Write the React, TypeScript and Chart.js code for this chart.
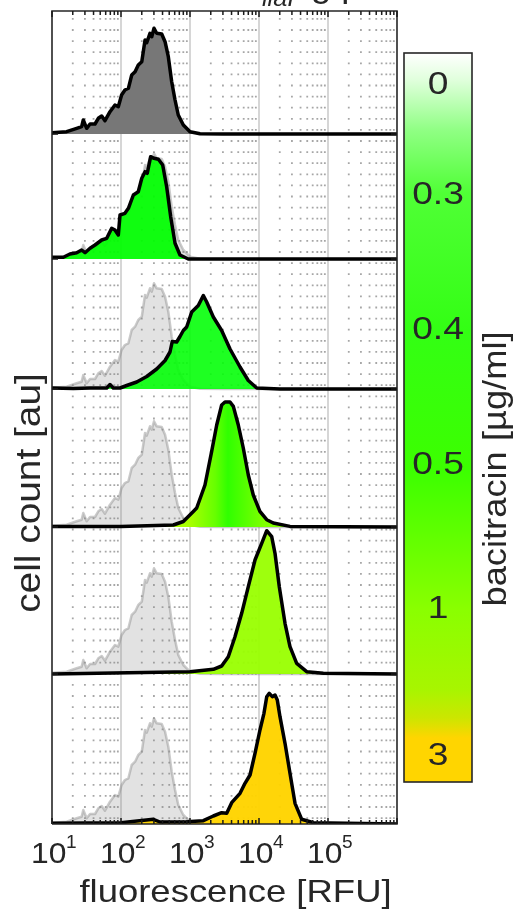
import React, { useEffect, useRef } from 'react';
import { Chart, registerables } from 'chart.js';

Chart.register(...registerables);

// ---- data ----
const concentrations = ['0', '0.3', '0.4', '0.5', '1', '3']; // bacitracin [µg/ml]
const panelBaselines = [6.9, 5.65, 4.35, 2.97, 1.5, 0]; // y offset of each histogram (au)
const yAxisMax = 8.13;
const xAxisMin = 10;
const xAxisMax = 1e6;
const xTickExponents = [1, 2, 3, 4, 5];

// fluorescence [RFU] / cell count [au]
const rfu0 = [10, 16.3, 22.8, 26.9, 28.4, 31.8, 35.6, 42, 46.9, 52.5, 58.6, 69.3, 81.8, 91.4, 102, 114, 128, 143, 160, 178, 200, 223, 236, 263, 279, 301, 329, 389, 435, 485, 543, 607, 676, 800, 1000, 1396, 3000, 1000000];
const counts0 = [0.013, 0.023, 0.057, 0.073, 0.14, 0.057, 0.1, 0.1, 0.157, 0.18, 0.133, 0.223, 0.29, 0.273, 0.39, 0.44, 0.457, 0.59, 0.623, 0.69, 0.723, 0.94, 0.913, 1.007, 0.973, 1.057, 1.007, 1.0, 0.923, 0.773, 0.523, 0.34, 0.19, 0.09, 0.023, 0.003, 0, 0];

const rfu1 = [10, 14.6, 18.2, 22.8, 26.9, 30.1, 35.6, 42, 52.5, 62.1, 73.3, 81.8, 91.4, 96.8, 114, 128, 151, 178, 200, 223, 240, 269, 301, 348, 402, 459, 525, 607, 716, 944, 2000, 1000000];
const counts1 = [0.017, 0.017, 0.05, 0.063, 0.09, 0.063, 0.107, 0.14, 0.19, 0.207, 0.307, 0.29, 0.24, 0.44, 0.457, 0.507, 0.64, 0.673, 0.807, 0.873, 0.857, 1.023, 1.007, 0.997, 0.94, 0.723, 0.423, 0.157, 0.04, 0, 0, 0];

const rfu2 = [10, 20.4, 35.6, 62.1, 69.3, 77.3, 96.8, 121, 169, 236, 329, 435, 513, 553, 641, 716, 800, 895, 1059, 1318, 1560, 1746, 2178, 2877, 3802, 5309, 6998, 9268, 20000, 1000000];
const counts2 = [0.01, 0.005, 0.01, 0.01, 0.045, 0.01, 0.01, 0.035, 0.07, 0.125, 0.2, 0.285, 0.37, 0.475, 0.47, 0.525, 0.585, 0.62, 0.77, 0.835, 0.935, 0.87, 0.72, 0.585, 0.4, 0.22, 0.085, 0.01, 0, 0];

const rfu3 = [10, 100, 573, 800, 1117, 1250, 1648, 2061, 2438, 2877, 3214, 3802, 4246, 5012, 5916, 6998, 8260, 10300, 12940, 16110, 28120, 1000000];
const counts3 = [0.005, 0.005, 0.02, 0.055, 0.155, 0.19, 0.42, 0.756, 1.02, 1.22, 1.25, 1.25, 1.206, 1.02, 0.79, 0.52, 0.32, 0.156, 0.073, 0.04, 0.006, 0];

const rfu4 = [10, 1000, 2178, 2877, 3589, 4487, 5610, 6998, 8750, 10940, 12940, 15280, 17060, 19680, 23820, 28120, 35160, 49090, 85510, 1000000];
const counts4 = [0, 0.023, 0.047, 0.08, 0.173, 0.373, 0.607, 0.873, 1.14, 1.307, 1.433, 1.373, 1.207, 0.873, 0.507, 0.273, 0.107, 0.023, 0.007, 0];

const rfu5 = [10, 100, 294, 367, 895, 1560, 2178, 2877, 3404, 4018, 5309, 6266, 7413, 8750, 10330, 11800, 12940, 14090, 15600, 17060, 18410, 20140, 23820, 28120, 33270, 41590, 61380, 1000000];
const counts5 = [0.007, 0.013, 0.047, 0.02, 0.023, 0.033, 0.08, 0.113, 0.107, 0.213, 0.307, 0.407, 0.49, 0.707, 0.94, 1.107, 1.273, 1.307, 1.273, 1.29, 1.24, 1.073, 0.807, 0.507, 0.207, 0.047, 0.013, 0];

const seriesRfu = [rfu0, rfu1, rfu2, rfu3, rfu4, rfu5];
const seriesCounts = [counts0, counts1, counts2, counts3, counts4, counts5];

// ---- styling ----
const FONT = '"Liberation Sans", Arial, Helvetica, sans-serif';
const TEXT = '#262626';

function drawText(
  ctx: CanvasRenderingContext2D,
  s: string,
  x: number,
  y: number,
  o: { size: number; sx?: number; align?: CanvasTextAlign; rot?: number; italic?: boolean }
) {
  ctx.save();
  ctx.translate(x, y);
  if (o.rot) ctx.rotate(o.rot);
  ctx.scale(o.sx ?? 1.1, 1);
  ctx.font = `${o.italic ? 'italic ' : ''}${o.size}px ${FONT}`;
  ctx.textAlign = o.align ?? 'left';
  ctx.textBaseline = 'alphabetic';
  ctx.fillStyle = TEXT;
  ctx.fillText(s, 0, 0);
  ctx.restore();
}

const fillColors: any[] = [
  '#777777',
  'rgba(0,255,0,0.93)',
  'rgba(6,255,10,0.9)',
  null, // gradient
  'rgba(153,255,0,0.95)',
  'rgba(255,212,0,0.97)',
];

function panel4Gradient(c: any) {
  const ch = c.chart;
  const xs = ch.scales && ch.scales.x;
  if (!ch.chartArea || !xs) return '#44ff00';
  const x0 = xs.getPixelForValue(1000);
  const x1 = xs.getPixelForValue(12000);
  const g = ch.ctx.createLinearGradient(x0, 0, x1, 0);
  g.addColorStop(0, '#a8ff00');
  g.addColorStop(0.34, '#66ff00');
  g.addColorStop(0.51, '#30ff00');
  g.addColorStop(0.74, '#55ff00');
  g.addColorStop(1, '#80ff00');
  return g;
}

const decorPlugin = {
  id: 'decor',
  beforeDatasetsDraw(chart: any) {
    const { ctx, chartArea: a, scales } = chart;
    const x = scales.x;
    ctx.save();
    // minor dotted grid
    ctx.strokeStyle = '#a6a6a6';
    ctx.lineWidth = 1.8;
    ctx.setLineDash([1.8, 9.3]);
    for (const k of xTickExponents) {
      for (let m = 2; m <= 9; m++) {
        const px = x.getPixelForValue(m * Math.pow(10, k));
        if (px <= a.left || px >= a.right) continue;
        ctx.beginPath();
        ctx.moveTo(px, a.top + 7);
        ctx.lineTo(px, a.bottom);
        ctx.stroke();
      }
    }
    // major grid
    ctx.setLineDash([]);
    ctx.strokeStyle = '#d6d6d6';
    ctx.lineWidth = 2;
    for (const k of xTickExponents) {
      const px = x.getPixelForValue(Math.pow(10, k));
      if (px <= a.left + 1 || px >= a.right - 1) continue;
      ctx.beginPath();
      ctx.moveTo(px, a.top);
      ctx.lineTo(px, a.bottom);
      ctx.stroke();
    }
    ctx.restore();
  },
  afterDatasetsDraw(chart: any) {
    const { ctx, chartArea: a, scales } = chart;
    const x = scales.x;
    const y = scales.y;
    ctx.save();
    // axes box
    ctx.strokeStyle = '#262626';
    ctx.lineWidth = 1.6;
    ctx.beginPath();
    ctx.moveTo(a.left, a.bottom);
    ctx.lineTo(a.left, a.top);
    ctx.lineTo(a.right, a.top);
    ctx.lineTo(a.right, a.bottom);
    ctx.lineTo(a.left, a.bottom);
    ctx.stroke();
    // x ticks (inward, top & bottom)
    ctx.strokeStyle = '#1a1a1a';
    ctx.lineWidth = 1.5;
    for (let k = 1; k <= 6; k++) {
      for (let m = 1; m <= 9; m++) {
        const val = m * Math.pow(10, k);
        if (val < xAxisMin || val > xAxisMax) continue;
        const px = x.getPixelForValue(val);
        const len = m === 1 ? 6 : 4;
        ctx.beginPath();
        ctx.moveTo(px, a.top);
        ctx.lineTo(px, a.top + len);
        ctx.moveTo(px, a.bottom);
        ctx.lineTo(px, a.bottom - len);
        ctx.stroke();
      }
    }
    // y ticks at panel baselines
    for (const b of panelBaselines) {
      if (b <= 0) continue;
      const py = y.getPixelForValue(b);
      ctx.beginPath();
      ctx.moveTo(a.left, py);
      ctx.lineTo(a.left + 6, py);
      ctx.moveTo(a.right, py);
      ctx.lineTo(a.right - 6, py);
      ctx.stroke();
    }
    ctx.restore();

    // x tick labels
    for (const k of xTickExponents) {
      const px = x.getPixelForValue(Math.pow(10, k));
      drawText(ctx, '10', px - 21, 863, { size: 30, sx: 1.06 });
      drawText(ctx, String(k), px + 14, 848, { size: 18, sx: 1.06 });
    }
    // axis titles
    drawText(ctx, 'fluorescence [RFU]', 235.5, 902, { size: 32, sx: 1.14, align: 'center' });
    drawText(ctx, 'cell count [au]', 40, 493, { size: 35, sx: 1.11, align: 'center', rot: -Math.PI / 2 });

    // partially visible title at the top
    drawText(ctx, 'P', 243, -3, { size: 33 });
    drawText(ctx, 'liaI', 262, 6, { size: 23, italic: true });
    drawText(ctx, '-gfp', 299, -3, { size: 33 });

    // colour bar
    const cbL = 404, cbR = 472, cbT = 53, cbB = 782;
    const g = ctx.createLinearGradient(0, cbT, 0, cbB);
    const stops: [number, string][] = [
      [53, '#ffffff'], [80, '#e0ffdc'], [130, '#90ff84'], [193, '#50ff36'],
      [330, '#33ff14'], [470, '#3cff00'], [610, '#8aff00'], [690, '#a8f500'],
      [718, '#cce600'], [738, '#ffd500'], [782, '#ffd500'],
    ];
    for (const [p, c] of stops) g.addColorStop((p - cbT) / (cbB - cbT), c);
    ctx.save();
    ctx.fillStyle = g;
    ctx.fillRect(cbL, cbT, cbR - cbL, cbB - cbT);
    ctx.strokeStyle = '#262626';
    ctx.lineWidth = 1.6;
    ctx.strokeRect(cbL, cbT, cbR - cbL, cbB - cbT);
    ctx.restore();
    const labelCenters = [83, 192.5, 328, 462.5, 607, 754];
    concentrations.forEach((c, i) => {
      drawText(ctx, c, (cbL + cbR) / 2, labelCenters[i] + 11, { size: 31, sx: 1.2, align: 'center' });
    });
    drawText(ctx, 'bacitracin [µg/ml]', 506, 469, { size: 33, sx: 1.1, align: 'center', rot: -Math.PI / 2 });
  },
};

export default function App() {
  const ref = useRef<HTMLCanvasElement | null>(null);
  useEffect(() => {
    if (!ref.current) return;
    const datasets: any[] = [];
    seriesRfu.forEach((xs, i) => {
      const base = panelBaselines[i];
      datasets.push({
        label: `${concentrations[i]} µg/ml`,
        data: xs.map((v, j) => ({ x: v, y: base + seriesCounts[i][j] })),
        fill: { value: base },
        backgroundColor: i === 3 ? panel4Gradient : fillColors[i],
        borderColor: '#000000',
        borderWidth: 3.5,
        borderJoinStyle: 'round',
        borderCapStyle: 'round',
        pointRadius: 0,
        tension: 0,
        order: 0,
      });
      if (i > 0) {
        datasets.push({
          label: `reference ${i}`,
          data: rfu0.map((v, j) => ({ x: v, y: base + counts0[j] })),
          fill: { value: base },
          backgroundColor: 'rgba(135,135,135,0.24)',
          borderColor: 'rgba(140,140,140,0.45)',
          borderWidth: 2.5,
          borderJoinStyle: 'round',
          pointRadius: 0,
          tension: 0,
          order: 1,
        });
      }
    });
    const chart = new Chart(ref.current, {
      type: 'line',
      data: { datasets },
      options: {
        animation: false,
        responsive: false,
        devicePixelRatio: 1,
        parsing: false,
        layout: { padding: { left: 52, right: 120, top: 11, bottom: 86 } },
        scales: {
          x: { type: 'logarithmic', min: xAxisMin, max: xAxisMax, display: false },
          y: { type: 'linear', min: 0, max: yAxisMax, display: false },
        },
        plugins: {
          legend: { display: false },
          tooltip: { enabled: false },
        },
      } as any,
      plugins: [decorPlugin],
    });
    return () => chart.destroy();
  }, []);
  return (
    <div style={{ position: 'absolute', left: 0, top: 0, width: 517, height: 910, background: '#ffffff' }}>
      <canvas ref={ref} width={517} height={910} style={{ display: 'block', width: 517, height: 910 }} />
    </div>
  );
}
